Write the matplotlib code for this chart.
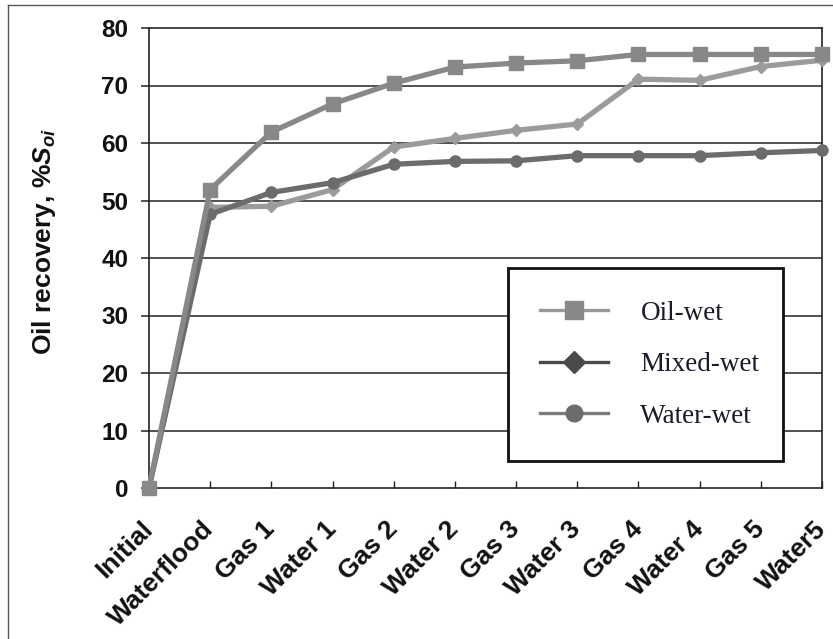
import matplotlib
matplotlib.use("Agg")
import matplotlib.pyplot as plt
from matplotlib.lines import Line2D

plt.rcParams['font.family'] = ['Liberation Sans', 'DejaVu Sans']
plt.rcParams['mathtext.fontset'] = 'custom'
plt.rcParams['mathtext.it'] = 'Liberation Sans:bold:italic'
plt.rcParams['mathtext.rm'] = 'Liberation Sans:bold'

stages = ["Initial", "Waterflood", "Gas 1", "Water 1", "Gas 2", "Water 2",
          "Gas 3", "Water 3", "Gas 4", "Water 4", "Gas 5", "Water5"]
oil_wet = [0, 51.9, 61.9, 66.8, 70.4, 73.2, 73.9, 74.3, 75.4, 75.4, 75.4, 75.4]
mixed_wet = [0, 48.8, 49.0, 51.9, 59.3, 60.8, 62.2, 63.3, 71.1, 70.9, 73.3, 74.4]
water_wet = [0, 47.6, 51.4, 53.1, 56.3, 56.8, 56.9, 57.8, 57.8, 57.8, 58.3, 58.7]
y_ticks = [0, 10, 20, 30, 40, 50, 60, 70, 80]

fig = plt.figure(figsize=(8.33, 6.39), dpi=100)
ax = fig.add_axes([149 / 833, 1 - 488 / 639, 673 / 833, 460 / 639])

x = list(range(len(stages)))

ax.plot(x, mixed_wet, color='#9b9b9b', lw=3.8, marker='D', ms=6.5,
        mfc='#9b9b9b', mec='#9b9b9b', clip_on=False, zorder=3)
ax.plot(x, water_wet, color='#6c6c6c', lw=3.8, marker='o', ms=8,
        mfc='#6c6c6c', mec='#6c6c6c', clip_on=False, zorder=4)
ax.plot(x, oil_wet, color='#888888', lw=3.8, marker='s', ms=9.5,
        mfc='#888888', mec='#888888', clip_on=False, zorder=5)

ax.set_xlim(0, len(stages) - 1)
ax.set_ylim(0, 80)
ax.set_yticks(y_ticks)
ax.set_xticks(x)
ax.set_xticklabels(stages, rotation=45, ha='right', va='center',
                   rotation_mode='anchor', fontsize=19, fontweight='bold')
ax.set_yticklabels([str(v) for v in y_ticks], fontsize=17.5, fontweight='bold')

for v in y_ticks[1:-1]:
    ax.axhline(v, color='#222222', lw=1.1, zorder=1)

for s in ax.spines.values():
    s.set_color('#222222')
    s.set_linewidth(1.2)

ax.tick_params(axis='y', direction='out', length=6, width=1.1, pad=9,
               colors='#222222', labelcolor='#111111')
ax.tick_params(axis='x', direction='in', length=5, width=1.0, pad=27,
               colors='#222222', labelcolor='#111111')

ax.set_ylabel(r'Oil recovery, %$S_{oi}$', fontsize=19, fontweight='bold',
              color='#111111')
ax.yaxis.set_label_coords(-0.135, 0.535)

handles = [
    Line2D([], [], color='#999999', lw=2.4, marker='s', ms=13,
           mfc='#888888', mec='#888888'),
    Line2D([], [], color='#4a4a4a', lw=2.4, marker='D', ms=11,
           mfc='#4a4a4a', mec='#4a4a4a'),
    Line2D([], [], color='#7a7a7a', lw=2.4, marker='o', ms=12,
           mfc='#6c6c6c', mec='#6c6c6c'),
]
leg = ax.legend(handles, ["Oil-wet", "Mixed-wet", "Water-wet"],
                loc='upper left', bbox_to_anchor=(0.533, 0.052, 0.409, 0.426),
                mode='expand', borderaxespad=0, frameon=True, fancybox=False,
                framealpha=1, borderpad=1.2, labelspacing=0.98,
                handlelength=2.5, handletextpad=1.2,
                prop={'family': 'Liberation Serif', 'size': 19.5})
leg.get_frame().set_edgecolor('#111111')
leg.get_frame().set_linewidth(2.0)
leg.set_zorder(10)
for t in leg.get_texts():
    t.set_color('#1a1a2a')

# outer frame lines of the figure
fig.add_artist(Line2D([8 / 833, 8 / 833], [0, 1 - 5 / 639],
                      transform=fig.transFigure, color='#555555', lw=1.0))
fig.add_artist(Line2D([8 / 833, 1], [1 - 5 / 639, 1 - 5 / 639],
                      transform=fig.transFigure, color='#555555', lw=1.0))

fig.savefig("out.png", dpi=100)
